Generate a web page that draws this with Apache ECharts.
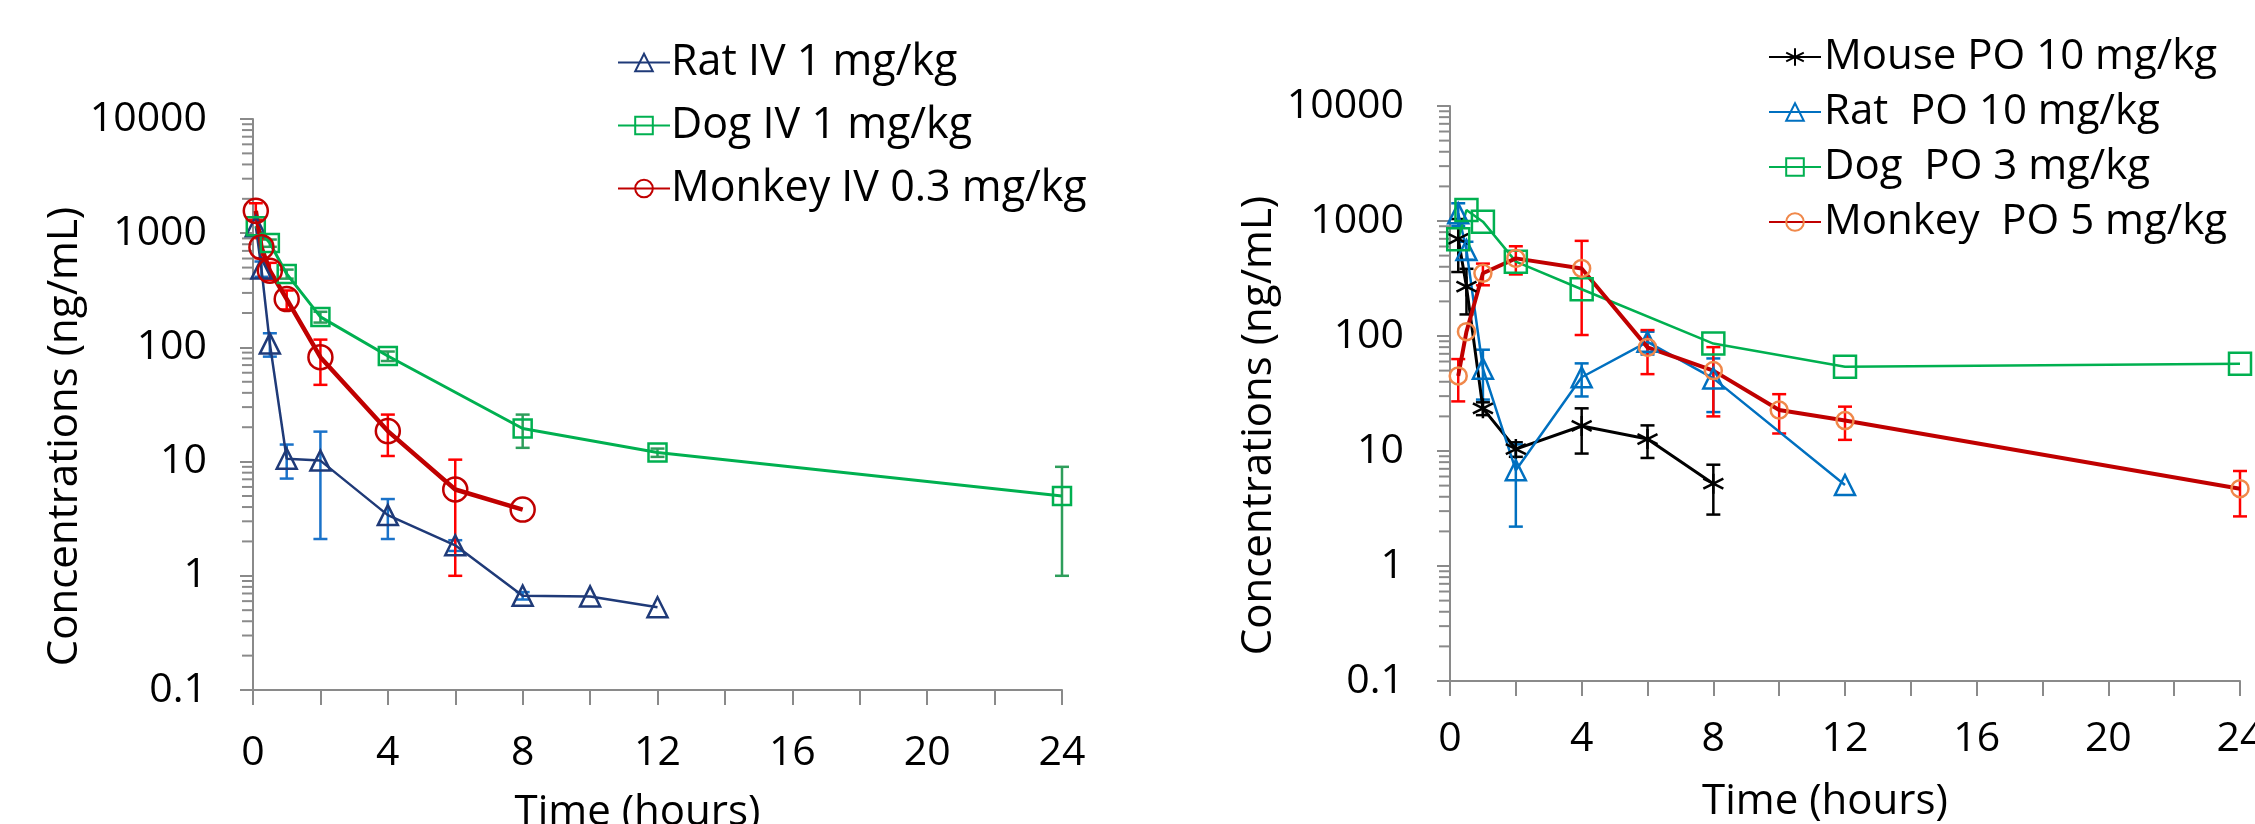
<!DOCTYPE html>
<html>
<head>
<meta charset="utf-8">
<script src="https://cdn.jsdelivr.net/npm/echarts@6/dist/echarts.min.js"></script>
<style>
html,body{margin:0;padding:0;background:#fff;}
#chart{width:2255px;height:824px;}
</style>
</head>
<body>
<div id="chart"></div>
<script>
// ---------- Data ----------
// Left panel: IV dosing
const ratIVTimes   = [0.083, 0.25, 0.5, 1, 2, 4, 6, 8, 10, 12];
const ratIVMean    = [1150, 490, 108, 10.6, 10.2, 3.4, 1.85, 0.67, 0.66, 0.53];
const ratIVSd      = [0, 75, 25, 3.5, 8.1, 1.3, 0.2, 0.05, 0, 0];

const dogIVTimes   = [0.083, 0.5, 1, 2, 4, 8, 12, 24];
const dogIVMean    = [1150, 820, 440, 185, 84, 19.5, 12, 5];
const dogIVSd      = [0, 60, 40, 20, 8, 6.3, 1, 4];

const monkeyIVTimes = [0.083, 0.25, 0.5, 1, 2, 4, 6, 8];
const monkeyIVMean  = [1570, 754, 470, 265, 82, 18.5, 5.7, 3.8];
const monkeyIVSd    = [260, 150, 80, 50, 35, 7.3, 4.7, 0];

// Right panel: PO dosing
const mousePOTimes = [0.25, 0.5, 1, 2, 4, 6, 8];
const mousePOMean  = [700, 269, 23.5, 10.4, 16.5, 12.7, 5.2];
const mousePOSd    = [340, 115, 3, 1.5, 7, 4, 2.4];

const ratPOTimes   = [0.25, 0.5, 1, 2, 4, 6, 8, 12];
const ratPOMean    = [1166, 560, 52, 6.8, 43.8, 89, 42.8, 5.06];
const ratPOSd      = [260, 100, 24, 4.6, 14, 20, 21, 0];

const dogPOTimes   = [0.25, 0.5, 1, 2, 4, 8, 12, 24];
const dogPOMean    = [693, 1247, 987, 443, 255, 86, 54, 57.5];
const dogPOSd      = [0, 0, 0, 0, 0, 0, 0, 0];

const monkeyPOTimes = [0.25, 0.5, 1, 2, 4, 6, 8, 10, 12, 24];
const monkeyPOMean  = [45, 109, 351, 473, 387, 79.6, 50, 22.7, 18.4, 4.7];
const monkeyPOSd    = [18, 0, 75, 130, 285, 33, 30, 8.5, 5.9, 2];

// Axis labels
const yTickLabels = ['0.1', '1', '10', '100', '1000', '10000'];
const xTickLabels = ['0', '4', '8', '12', '16', '20', '24'];
const yMinorMultipliers = [2, 3, 4, 5, 6, 7, 8, 9];
const yDecades = [0.1, 1, 10, 100, 1000];

const names = {
  ratIV: 'Rat IV 1 mg/kg',
  dogIV: 'Dog IV 1 mg/kg',
  monkeyIV: 'Monkey IV 0.3 mg/kg',
  mousePO: 'Mouse PO 10 mg/kg',
  ratPO: 'Rat  PO 10 mg/kg',
  dogPO: 'Dog  PO 3 mg/kg',
  monkeyPO: 'Monkey  PO 5 mg/kg'
};

// ---------- Helpers ----------
const FONT = 'Open Sans';
function pairs(t, v) { return t.map((x, i) => [x, v[i]]); }
function errData(t, m, s) {
  const out = [];
  t.forEach((x, i) => { if (s[i] > 0) out.push([x, Math.max(m[i] - s[i], 0.11), m[i] + s[i]]); });
  return out;
}
function errSeries(idx, t, m, s, color) {
  return {
    type: 'custom', xAxisIndex: idx, yAxisIndex: idx, silent: true, clip: false, z: 3,
    encode: { x: 0, y: [1, 2] },
    data: errData(t, m, s),
    renderItem: function (params, api) {
      const lo = api.coord([api.value(0), api.value(1)]);
      const hi = api.coord([api.value(0), api.value(2)]);
      const w = 7;
      const st = { stroke: color, lineWidth: 2.5 };
      return { type: 'group', children: [
        { type: 'line', shape: { x1: lo[0], y1: lo[1], x2: hi[0], y2: hi[1] }, style: st },
        { type: 'line', shape: { x1: hi[0] - w, y1: hi[1], x2: hi[0] + w, y2: hi[1] }, style: st },
        { type: 'line', shape: { x1: lo[0] - w, y1: lo[1], x2: lo[0] + w, y2: lo[1] }, style: st }
      ]};
    }
  };
}
const minorValues = [];
yDecades.forEach(d => yMinorMultipliers.forEach(k => minorValues.push([0, k * d])));
function minorTickSeries(idx) {
  return {
    type: 'custom', xAxisIndex: idx, yAxisIndex: idx, silent: true, clip: false, z: 1,
    encode: { x: 0, y: 1 },
    data: minorValues,
    renderItem: function (params, api) {
      const p = api.coord([api.value(0), api.value(1)]);
      return { type: 'line', shape: { x1: p[0] - 11, y1: p[1], x2: p[0], y2: p[1] },
        style: { stroke: '#8a8a8a', lineWidth: 2 } };
    }
  };
}
function lineSeries(idx, name, t, m, color, symbol, size, lw, symColor) {
  return {
    type: 'line', name: name, xAxisIndex: idx, yAxisIndex: idx, z: 4,
    data: pairs(t, m), symbol: symbol, symbolSize: size, showAllSymbol: true,
    lineStyle: { color: color, width: lw },
    itemStyle: { color: 'rgba(255,255,255,0)', borderColor: symColor || color, borderWidth: 2.5 },
    emphasis: { disabled: true }, animation: false
  };
}
const ASTERISK = 'path://M50,0 L50,100 M7,25 L93,75 M7,75 L93,25';

function xAxis(idx) {
  return {
    type: 'value', gridIndex: idx, min: 0, max: 24, interval: 2,
    name: 'Time (hours)', nameLocation: 'middle', nameGap: idx === 0 ? 102 : 100,
    nameTextStyle: { fontFamily: FONT, fontSize: 42, color: '#000', padding: [0, 40, 0, 0] },
    axisLine: { show: true, lineStyle: { color: '#8a8a8a', width: 2 } },
    axisTick: { show: true, length: 15, lineStyle: { color: '#8a8a8a', width: 2 } },
    axisLabel: { fontFamily: FONT, fontSize: 41, color: '#000', margin: idx === 0 ? 43 : 38,
      formatter: v => (v % 4 === 0 ? xTickLabels[v / 4] : '') },
    splitLine: { show: false }
  };
}
function yAxis(idx) {
  return {
    type: 'log', logBase: 10, gridIndex: idx, min: 0.1, max: 10000,
    name: 'Concentrations (ng/mL)', nameLocation: 'middle', nameGap: idx === 0 ? 153 : 170,
    nameTextStyle: { fontFamily: FONT, fontSize: 42, color: '#000', padding: [0, 64, 0, 0] },
    axisLine: { show: true, lineStyle: { color: '#8a8a8a', width: 2 } },
    axisTick: { show: true, length: 13, lineStyle: { color: '#8a8a8a', width: 2 } },
    axisLabel: { fontFamily: FONT, fontSize: 41, color: '#000', margin: 46,
      formatter: v => yTickLabels[Math.round(Math.log10(v)) + 1] },
    splitLine: { show: false }
  };
}

const option = {
  animation: false,
  backgroundColor: '#fff',
  grid: [
    { left: 253, right: 2255 - 1062, top: 119, bottom: 824 - 690, outerBoundsMode: 'none', containLabel: false },
    { left: 1450, right: 2255 - 2240, top: 106, bottom: 824 - 681, outerBoundsMode: 'none', containLabel: false }
  ],
  xAxis: [xAxis(0), xAxis(1)],
  yAxis: [yAxis(0), yAxis(1)],
  legend: [
    { data: [names.ratIV, names.dogIV, names.monkeyIV], orient: 'vertical', left: 612, top: 36,
      itemWidth: 52, itemHeight: 22, itemGap: 20,
      textStyle: { fontFamily: FONT, fontSize: 43, color: '#000', padding: [0, 0, 0, -4] } },
    { data: [names.mousePO, names.ratPO, names.dogPO, names.monkeyPO], orient: 'vertical', left: 1763, top: 31,
      itemWidth: 52, itemHeight: 22, itemGap: 13,
      textStyle: { fontFamily: FONT, fontSize: 42, color: '#000', padding: [0, 0, 0, -2] } }
  ],
  series: [
    minorTickSeries(0),
    minorTickSeries(1),
    // Left panel
    lineSeries(0, names.ratIV, ratIVTimes, ratIVMean, '#1f3a78', 'triangle', 20, 2.5),
    errSeries(0, ratIVTimes, ratIVMean, ratIVSd, '#1a72c9'),
    lineSeries(0, names.dogIV, dogIVTimes, dogIVMean, '#00b050', 'rect', 18, 3),
    errSeries(0, dogIVTimes, dogIVMean, dogIVSd, '#2e9e5b'),
    errSeries(0, monkeyIVTimes, monkeyIVMean, monkeyIVSd, '#ff0000'),
    lineSeries(0, names.monkeyIV, monkeyIVTimes, monkeyIVMean, '#c00000', 'circle', 24, 4.5),
    // Right panel
    lineSeries(1, names.mousePO, mousePOTimes, mousePOMean, '#000000', ASTERISK, 20, 3),
    errSeries(1, mousePOTimes, mousePOMean, mousePOSd, '#000000'),
    lineSeries(1, names.ratPO, ratPOTimes, ratPOMean, '#0070c0', 'triangle', 20, 2.5),
    errSeries(1, ratPOTimes, ratPOMean, ratPOSd, '#0070c0'),
    lineSeries(1, names.dogPO, dogPOTimes, dogPOMean, '#00b050', 'rect', 22, 2.5),
    errSeries(1, dogPOTimes, dogPOMean, dogPOSd, '#00b050'),
    lineSeries(1, names.monkeyPO, monkeyPOTimes, monkeyPOMean, '#c00000', 'circle', 17, 4, '#f0884a'),
    errSeries(1, monkeyPOTimes, monkeyPOMean, monkeyPOSd, '#ff0000')
  ]
};

const chart = echarts.init(document.getElementById('chart'), null, { renderer: 'canvas' });
chart.setOption(option);
</script>
</body>
</html>
